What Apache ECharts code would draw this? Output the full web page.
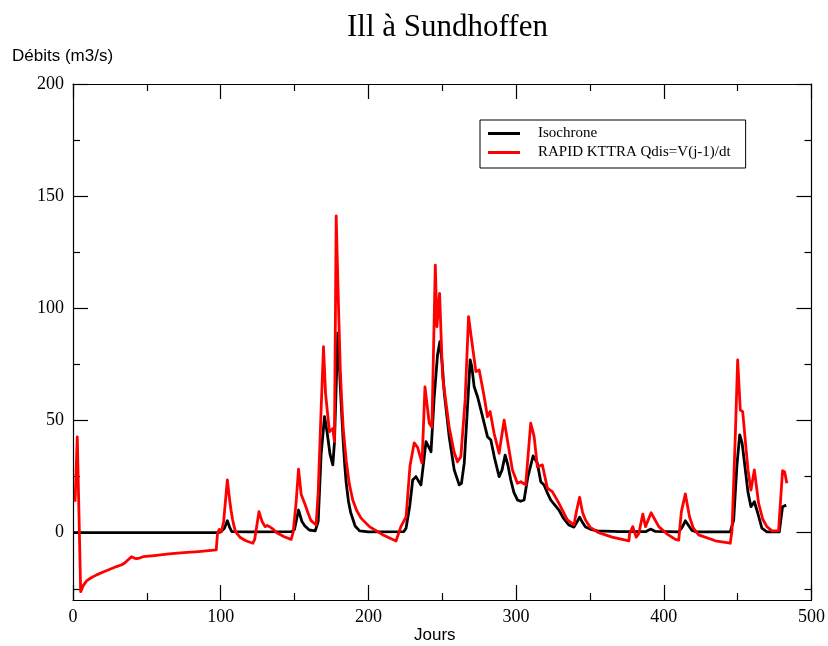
<!DOCTYPE html>
<html>
<head>
<meta charset="utf-8">
<script src="https://cdn.jsdelivr.net/npm/echarts@6/dist/echarts.min.js"></script>
<style>html,body{margin:0;padding:0;background:#fff}#c{width:828px;height:646px}</style>
</head>
<body>
<div id="c"></div>
<script>
const titleText = "Ill à Sundhoffen";
const yName = "Débits (m3/s)";
const xName = "Jours";
const seriesNames = ["Isochrone", "RAPID KTTRA Qdis=V(j-1)/dt"];
const yMajorTicks = [0, 50, 100, 150, 200];
const yMinorTicks = [-25, 25, 75, 125, 175];

const isoDays = [0,97,100,102.5,104.5,106,107.5,120,148,150,152.7,155,157,160,164,166,168,170.3,172,174,175.9,177,179.3,180,181,182,183,184,185,186.5,188,191,194,200,224,225.5,228,230,232.2,234,235.6,237.5,239,241,242.4,244.5,246.8,248.4,250,251.4,254.7,258.1,261.5,263,264.9,267,268.9,270,271.6,273.9,277.3,280.6,282.9,285.5,288.5,290.5,292.6,294.5,296.4,298.5,300.9,303,305.4,308,311.5,314.4,316.7,318.9,321,323.4,326,329,332,335.8,339.2,341,343,345,347,350.5,355,370,388,391,394,410,412.5,414.6,417,419.1,422,445,447.3,449.5,451.4,453,455.2,457,459,461.3,463.5,466.4,469.8,478.2,480.4,482.9];
const isoVals = [0,0,0.3,2,5.3,2.5,0.5,0.4,0.5,1.5,10.1,5,3,1.2,0.8,5,35,51.7,45,35,30.2,40,88.9,80,65,52,40,30,22,14,9,3,0.8,0.4,0.5,2,12,23.5,25,23,21.3,32,40.6,38,36.1,60,79.2,85.2,75,62.1,42.8,28,21.3,22,31,55,77,74,65.1,60.6,51.7,42.8,41.3,33,25,28,34.6,30,23.5,18,14.6,14,14.6,25,34.2,31,22.7,21.3,18,14.6,12.5,10.1,6.5,3.4,2.5,4.5,6.9,4.5,2.5,1.5,0.8,0.5,0.5,1.6,0.6,0.4,2.5,5.3,3,1,0.4,0.4,5.6,30,43.6,40,28,18,11.6,13.8,9,2,0.4,0.4,11.6,12.3];

const rapidDays = [1.4,2.9,5.2,7,9.2,12,16,20,25,29.5,33,35,37,39.6,41.5,43,45,47.5,55,65,75,85,97,97.8,99,100.5,102,104.5,106,107,108,109,110,113,117,121.8,123,125.9,128,130,131.5,133,135,138,143,147.7,149,151,152.7,154.5,157,159,161,164.6,166,168,169.6,171,173.6,175.9,177,178.2,179,180,181,182,183,185,187,189.4,192,195,200.7,210,218.7,222,225.5,228.2,231,233.3,236.3,238.3,241.2,243,245.3,246.4,248.2,250.2,254.7,258,260.3,262.6,265.5,267.8,270.5,272.8,275,278.4,280.6,282.4,285.1,288.5,291.9,294.1,297.5,300.9,303.2,306.5,309.9,312.2,314.4,317.8,321.2,324.5,329,334.7,339.2,341,343,345,347,350,356,365,376.4,376.8,379,381.3,383.1,385.8,387.6,391.4,396.6,402,407.9,410.1,411.9,414.6,417.4,420,423.6,434.9,445,446.2,448.5,450,451.8,453.4,457,459,461.3,464.2,467,469.8,473.2,477.7,480.4,481.8,483.3];
const rapidVals = [13.8,42.7,-26.3,-23.5,-21.5,-20.2,-18.8,-17.6,-16.3,-15.1,-14.3,-13.5,-12.3,-10.7,-11.3,-11.6,-11.3,-10.7,-10.2,-9.4,-8.9,-8.4,-7.7,-0.5,1.5,0.5,5,23.5,15,10,6,3,0.5,-2,-3.6,-4.7,-3,9.4,5,2.7,3.2,2.7,1.8,0,-1.8,-3,0,13,28.3,17,12.8,9,5.5,3.4,18,55,82.9,62,45,46.5,40.6,141.2,120,95,72,58,46,32,22,14.6,10,6.5,2.7,-1,-3.7,2.7,7,30,40,38,31,65,48.8,47,119.3,91.8,106.7,69.5,47,36,31.6,33.9,59.2,96.3,82.9,71.8,72.5,60.6,51.7,54,44.3,35.4,50.2,41.3,28,22,22.7,21.3,48.8,42.8,29.4,30.2,19.8,18.3,13.1,5.7,3.5,10,15.8,9,5.7,2.5,0,-2,-3.6,-0.6,2.7,-2,-0.3,8.3,2.7,8.9,2.7,-0.5,-3,-3.3,9.4,17.3,7.1,2,-1,-3.6,-4.7,1.2,45,77,54.7,54,28,19,28,13.1,6,2.7,0.8,0.8,27.6,27.2,22];

const zip = (a, b) => a.map((d, i) => [d, b[i]]);

const serif = "Liberation Serif";
const axisLine = { show: true, onZero: false, lineStyle: { color: '#000', width: 1.2 } };

function yAxis(pos, ticks, len, labels) {
  return {
    type: 'value', position: pos, min: -30, max: 200,
    axisLine: labels !== null ? axisLine : { show: false, onZero: false },
    axisTick: { show: true, inside: true, length: len, customValues: ticks, lineStyle: { color: '#000', width: 1.2 } },
    axisLabel: labels ? { show: true, customValues: ticks, fontFamily: serif, fontSize: 18, color: '#000', margin: 9 } : { show: false },
    splitLine: { show: false }
  };
}
function xAxis(pos, labels) {
  return {
    type: 'value', position: pos, min: 0, max: 500, interval: 100,
    axisLine: axisLine,
    axisTick: { show: true, inside: true, length: 15, lineStyle: { color: '#000', width: 1.2 } },
    minorTick: { show: true, splitNumber: 2, length: 7, lineStyle: { color: '#000', width: 1.2 } },
    axisLabel: labels ? { show: true, fontFamily: serif, fontSize: 18, color: '#000', margin: 8 } : { show: false },
    splitLine: { show: false }, minorSplitLine: { show: false }
  };
}

const chart = echarts.init(document.getElementById('c'), null, { renderer: 'canvas' });
chart.setOption({
  animation: false,
  backgroundColor: '#fff',
  grid: { left: 73, right: 15, top: 84, bottom: 46, containLabel: false },
  xAxis: [xAxis('bottom', true), xAxis('top', false)],
  yAxis: [
    yAxis('left', yMajorTicks, 15, true),
    yAxis('left', yMinorTicks, 7, null),
    yAxis('right', yMajorTicks, 15, false),
    yAxis('right', yMinorTicks, 7, null)
  ],
  legend: {
    data: seriesNames, orient: 'vertical', left: 480, top: 120,
    borderColor: '#000', borderWidth: 1, backgroundColor: '#fff',
    padding: [6, 15, 8, 8], itemWidth: 32, itemHeight: 3, itemGap: 4, icon: 'rect',
    textStyle: { fontFamily: serif, fontSize: 15, color: '#000', lineHeight: 15, padding: [0, 0, 0, 13] }
  },
  graphic: [
    { type: 'text', left: 347, top: 12, style: { text: titleText, font: '31px "Liberation Serif"', fill: '#000' } },
    { type: 'text', left: 12, top: 48, style: { text: yName, font: '17px "Liberation Sans"', fill: '#000' } },
    { type: 'text', left: 414, top: 627, style: { text: xName, font: '17px "Liberation Sans"', fill: '#000' } }
  ],
  series: [
    { name: seriesNames[0], type: 'line', showSymbol: false, data: zip(isoDays, isoVals), lineStyle: { color: '#000', width: 2.8, join: 'round' }, itemStyle: { color: '#000' } },
    { name: seriesNames[1], type: 'line', showSymbol: false, data: zip(rapidDays, rapidVals), lineStyle: { color: '#ff0000', width: 2.8, join: 'round' }, itemStyle: { color: '#ff0000' } }
  ]
});
</script>
</body>
</html>
